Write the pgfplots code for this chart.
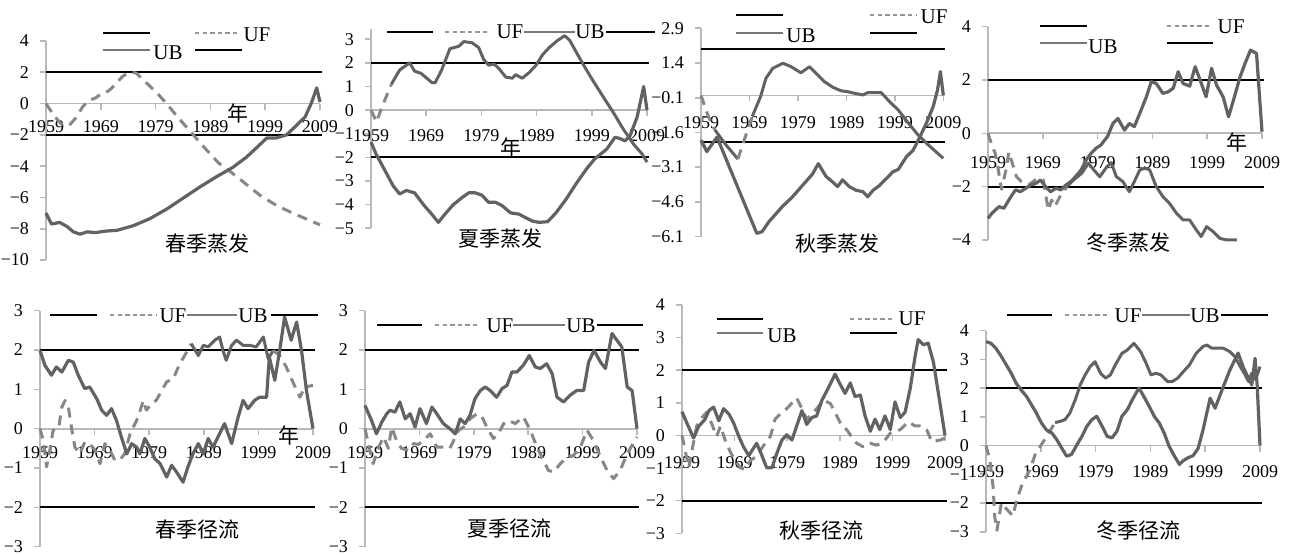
\documentclass[border=0pt]{standalone}
\usepackage{pgfplots}
\pgfplotsset{compat=1.18}
\usepackage{fontspec}
\setmainfont{Liberation Serif}
\newfontfamily\cjk{Noto Sans CJK SC}
\definecolor{axgray}{RGB}{185,185,185}
\definecolor{ubgray}{RGB}{98,98,98}
\definecolor{ufgray}{RGB}{135,135,135}
\definecolor{lggray}{RGB}{120,120,120}
\definecolor{lgdgray}{RGB}{150,150,150}
\pgfplotsset{
  panel/.style={scale only axis, clip=false, xmin=1959, xmax=2009,
    anchor=north west,
    axis x line=middle, axis y line=left,
    axis line style={draw=axgray, line width=0.9pt, -},
    xtick={1959,1969,1979,1989,1999,2009},
    xticklabels={1959,1969,1979,1989,1999,2009},
    major tick length=3pt, tick align=outside,
    every tick/.style={draw=axgray, line width=0.8pt},
    tick label style={font=\fontsize{9}{10}\selectfont, text=black},
    yticklabel style={anchor=east, xshift=-2pt},
    hide obscured x ticks=false, hide obscured y ticks=false,
    every axis plot/.append style={line join=round},
  },
  uf/.style={draw=ufgray, line width=1.5pt, dash pattern=on 5pt off 3.5pt},
  ufs/.style={draw=ubgray, line width=1.5pt},
  ub/.style={draw=ubgray, line width=1.6pt},
  crit/.style={black, line width=1.1pt},
}
\tikzset{
  lgk/.style={black, line width=1pt},
  lgd/.style={lgdgray, line width=1pt, dash pattern=on 2.2pt off 1.6pt},
  lgg/.style={lggray, line width=1pt},
  lgt/.style={font=\fontsize{10.5}{12}\selectfont, inner sep=0pt},
  ttl/.style={font=\cjk\fontsize{10.5}{12}\selectfont, inner sep=0pt},
}
\begin{document}
\begin{tikzpicture}
\useasboundingbox (0,0) rectangle (644.5pt,-277.5pt);

% ---------------- P1 春季蒸发
\begin{axis}[panel, at={(23pt,-20.5pt)}, width=137pt, height=109.5pt,
  ymin=-10, ymax=4, ytick={-10,-8,-6,-4,-2,0,2,4},
  yticklabels={−10,−8,−6,−4,−2,0,2,4},
  xticklabel style={anchor=center, yshift=-8.5pt}]
\addplot[crit] coordinates {(1959,2) (2009.3,2)};
\addplot[crit] coordinates {(1959,-2) (2009.3,-2)};
\addplot[uf] coordinates {(1959,0) (1960.5,-0.8) (1961.8,-1.3) (1963.2,-1.4) (1964.5,-0.9) (1965.7,-0.2) (1966.8,0.2) (1968,0.35) (1969.2,0.65) (1970.4,0.8) (1971.6,1.2) (1973,1.75) (1974.3,2.0) (1975.5,1.95) (1976.5,1.6) (1977.7,1.2) (1979.2,0.7) (1981,0) (1983,-0.85) (1985.5,-1.85) (1988,-2.85) (1990.5,-3.8) (1993,-4.45) (1995.5,-5.15) (1998,-5.85) (2001,-6.5) (2004,-7.0) (2007,-7.45) (2009,-7.75)};
\addplot[ub] coordinates {(1959,-7.0) (1960,-7.7) (1961.5,-7.6) (1962.8,-7.85) (1964,-8.2) (1965.2,-8.35) (1966.5,-8.2) (1968,-8.25) (1970,-8.15) (1972,-8.1) (1975,-7.8) (1978,-7.35) (1981,-6.75) (1984,-6.05) (1987,-5.35) (1990,-4.7) (1993,-4.1) (1995.5,-3.45) (1997.5,-2.8) (1999.3,-2.2) (2001,-2.2) (2002.9,-2.0) (2004.7,-1.4) (2006.3,-0.85) (2007.5,0.1) (2008.4,1.0) (2009,0.1)};
\end{axis}

% ---------------- P2 夏季蒸发
\begin{axis}[panel, at={(185.5pt,-14.3pt)}, width=138pt, height=99.85pt,
  ymin=-5, ymax=3.45, ytick={-5,-4,-3,-2,-1,0,1,2,3},
  yticklabels={−5,−4,−3,−2,−1,0,1,2,3},
  xticklabel style={anchor=center, yshift=-9.5pt}]
\addplot[crit] coordinates {(1959,2) (2009.3,2)};
\addplot[crit] coordinates {(1959,-2) (2009.3,-2)};
\addplot[uf] coordinates {(1959,0) (1960,-0.5) (1961.1,0.2) (1962.7,1.1)};
\addplot[ufs] coordinates {(1962.7,1.1) (1964.2,1.7) (1966,2.0) (1966.9,1.65) (1968.1,1.55) (1970,1.17) (1970.6,1.15) (1971.8,1.7) (1973.3,2.6) (1974.9,2.7) (1975.8,2.9) (1977.3,2.85) (1978.5,2.65) (1979.4,2.15) (1980.3,1.9) (1981.3,1.95) (1982.2,1.75) (1983.4,1.4) (1984.6,1.35) (1985.2,1.5) (1986.4,1.35) (1987.7,1.6) (1988.9,1.9) (1990.1,2.35) (1991.3,2.65) (1992.8,2.95) (1994.1,3.15) (1995,2.95) (1996.2,2.45) (1997.4,1.95) (1999.2,1.25) (2001.1,0.55) (2002.9,-0.1) (2004.7,-0.8) (2006.6,-1.45) (2008.1,-1.85) (2009,-2.2)};
\addplot[ub] coordinates {(1959,-1.35) (1959.9,-1.85) (1961.4,-2.5) (1963,-3.2) (1964.2,-3.55) (1965.4,-3.4) (1966.9,-3.5) (1968.5,-4.0) (1970,-4.4) (1971.2,-4.75) (1972.4,-4.4) (1973.9,-4.0) (1975.5,-3.7) (1976.7,-3.5) (1977.9,-3.5) (1979.1,-3.6) (1980.3,-3.9) (1981.6,-3.9) (1982.8,-4.05) (1984.3,-4.35) (1985.8,-4.4) (1987,-4.55) (1988.3,-4.7) (1989.5,-4.75) (1991,-4.72) (1992.5,-4.35) (1994.4,-3.75) (1996.2,-3.1) (1998,-2.5) (1999.5,-2.07) (2001.7,-1.65) (2003.2,-1.15) (2004.1,-1.2) (2005,-1.3) (2005.9,-1.1) (2007.2,-0.3) (2008.4,1.0) (2009,0)};
\end{axis}

% ---------------- P3 秋季蒸发
\begin{axis}[panel, at={(350.5pt,-14.15pt)}, width=121.15pt, height=104.15pt,
  ymin=-6.1, ymax=2.9, ytick={-6.1,-4.6,-3.1,-1.6,-0.1,1.4,2.9},
  yticklabels={−6.1,−4.6,−3.1,−1.6,−0.1,1.4,2.9},
  xticklabel style={anchor=center, yshift=-10.5pt}]
\addplot[crit] coordinates {(1959,2) (2009.3,2)};
\addplot[crit] coordinates {(1959,-2) (2009.3,-2)};
\addplot[uf] coordinates {(1959,0) (1960.5,-0.9) (1961.9,-1.5)};
\addplot[ufs] coordinates {(1961.9,-1.5) (1964,-2.1) (1966.6,-2.75)};
\addplot[uf] coordinates {(1966.6,-2.75) (1967.7,-2.06) (1969.6,-0.9)};
\addplot[ufs] coordinates {(1969.6,-0.9) (1971.3,-0.05) (1972.4,0.74) (1973.8,1.17) (1975.9,1.39) (1977.6,1.24) (1979.6,0.98) (1981.4,1.24) (1983.1,0.88) (1984.5,0.59) (1986.2,0.35) (1987.9,0.2) (1989.3,0.16) (1990.7,0.09) (1992.4,0.02) (1993.4,0.12) (1996.2,0.12) (1997.9,-0.27) (1999.7,-0.63) (2001.8,-1.2) (2003.8,-1.71) (2005.9,-2.14) (2009,-2.72)};
\addplot[ub] coordinates {(1959,-1.93) (1960.2,-2.43) (1962.3,-1.8) (1970.5,-5.96) (1971.6,-5.89) (1973,-5.46) (1975.8,-4.8) (1977.8,-4.4) (1979.9,-3.9) (1982,-3.4) (1983.2,-2.95) (1984.8,-3.5) (1986.1,-3.73) (1987.2,-3.94) (1988.2,-3.65) (1989.6,-3.94) (1991,-4.1) (1992.4,-4.16) (1993.4,-4.38) (1994.5,-4.1) (1995.8,-3.9) (1997.2,-3.6) (1998.6,-3.3) (1999.7,-3.2) (2001.4,-2.65) (2002.8,-2.36) (2004.2,-1.78) (2005.5,-1.2) (2006.9,-0.49) (2007.8,0.23) (2008.4,1.03) (2009,0)};
\end{axis}

% ---------------- P4 冬季蒸发
\begin{axis}[panel, at={(494pt,-13.35pt)}, width=137pt, height=106.65pt,
  ymin=-4, ymax=4, ytick={-4,-2,0,2,4},
  yticklabels={−4,−2,0,2,4},
  xticklabel style={anchor=center, yshift=-11.5pt}]
\addplot[crit] coordinates {(1959,2) (2009.3,2)};
\addplot[crit] coordinates {(1959,-2) (2009.3,-2)};
\addplot[uf] coordinates {(1959,0) (1959.7,-0.44) (1960.3,-0.75) (1960.8,-1.25) (1961.2,-1.8) (1961.5,-2.1) (1962.4,-1.25) (1962.8,-0.7) (1964.2,-1.63) (1965.1,-1.81) (1966.4,-1.94) (1967.6,-1.75) (1969.1,-1.75) (1970,-2.88) (1970.6,-2.5) (1971.2,-2.75) (1972.1,-2.38) (1973.4,-2.0)};
\addplot[ufs] coordinates {(1973.4,-2.0) (1974.6,-1.75) (1976.1,-1.5) (1977.3,-1.12) (1978.3,-1.37) (1979.4,-1.63) (1980.7,-1.25) (1981.5,-1.1) (1982.4,-1.62) (1983.6,-1.81) (1984.8,-2.19) (1985.7,-1.81) (1986.7,-1.37) (1987.6,-1.31) (1988.5,-1.37) (1989.7,-2.0) (1990.9,-2.37) (1992.1,-2.62) (1993.4,-3.0) (1994.6,-3.25) (1995.8,-3.25) (1997,-3.62) (1997.9,-3.87) (1998.9,-3.5) (2000.1,-3.69) (2001.3,-3.94) (2002.6,-4.0) (2004.4,-4.0)};
\addplot[ub] coordinates {(1959,-3.19) (1959.7,-3.0) (1961,-2.75) (1961.9,-2.81) (1962.8,-2.5) (1964,-2.12) (1964.9,-2.19) (1965.9,-2.06) (1966.8,-1.94) (1967.7,-1.88) (1968.6,-1.75) (1969.5,-2.0) (1970.4,-2.19) (1971.4,-2.06) (1972.3,-2.12) (1973.2,-1.94) (1974.1,-1.81) (1975,-1.62) (1976,-1.37) (1976.9,-1.0) (1977.8,-0.75) (1978.7,-0.56) (1979.6,-0.44) (1980.8,-0.12) (1981.8,0.37) (1982.7,0.56) (1983.9,0.12) (1984.8,0.37) (1985.7,0.25) (1986.7,0.75) (1987.9,1.37) (1988.8,1.94) (1989.7,1.87) (1990.9,1.5) (1991.9,1.56) (1992.8,1.69) (1993.7,2.31) (1994.6,1.87) (1995.8,1.77) (1996.8,2.5) (1997.7,2.0) (1998.8,1.37) (1999.8,2.44) (2000.7,1.81) (2001.9,1.37) (2002.9,0.62) (2003.8,1.25) (2005,2.12) (2005.9,2.62) (2006.9,3.12) (2008,3.0) (2009,0.06)};
\end{axis}

% ---------------- P5 春季径流
\begin{axis}[panel, at={(20pt,-155.35pt)}, width=136.5pt, height=118pt,
  ymin=-3, ymax=3, ytick={-3,-2,-1,0,1,2,3},
  yticklabels={−3,−2,−1,0,1,2,3},
  xticklabel style={anchor=center, yshift=-9pt}]
\addplot[crit] coordinates {(1959,2) (2009.3,2)};
\addplot[crit] coordinates {(1959,-2) (2009.3,-2)};
\addplot[uf] coordinates {(1959,0) (1959.6,-0.3) (1960.2,-0.97) (1960.8,-0.55) (1961.4,-0.04) (1962.4,0) (1963,0.55) (1963.6,0.72) (1964.2,0.55) (1964.8,0) (1965.4,-0.47) (1966.3,-0.64) (1967.2,-0.34) (1968.1,-0.38) (1969.1,-0.55) (1970,-0.89) (1970.9,-0.38) (1971.8,-0.55) (1972.7,-0.8) (1973.6,-0.8) (1974.5,-0.64) (1975.5,-0.13) (1976.1,0.04) (1977,0.3) (1977.9,0.72) (1978.5,0.47) (1979.4,0.64) (1980.3,0.72) (1981.3,0.97) (1982.2,1.19) (1983.4,1.27) (1984.6,1.65) (1985.5,1.86) (1986.7,2.16)};
\addplot[ufs] coordinates {(1986.7,2.16) (1988,1.86) (1988.9,2.12) (1989.8,2.08) (1991,2.25) (1991.9,2.33) (1992.5,1.99) (1993.1,1.74) (1994.1,2.12) (1995,2.25) (1996.2,2.12) (1997.4,2.12) (1998.6,2.08) (1999.9,2.33) (2000.8,1.78) (2001.7,1.99)};
\addplot[uf] coordinates {(2001.7,1.99) (2002.9,1.86) (2004.1,1.57) (2005.3,1.19) (2006.6,0.8) (2007.5,1.06) (2009,1.1)};
\addplot[ub] coordinates {(1959,1.99) (1959.9,1.61) (1961.1,1.36) (1962,1.57) (1963,1.44) (1964.2,1.74) (1965.1,1.69) (1966,1.36) (1967.2,1.02) (1968.1,1.06) (1969.4,0.76) (1970.3,0.47) (1971.2,0.34) (1972.1,0.51) (1973,0.21) (1973.9,-0.21) (1974.9,-0.64) (1975.8,-0.38) (1976.7,-0.47) (1977.3,-0.64) (1978.2,-0.25) (1979.1,-0.47) (1980,-0.76) (1981,-0.89) (1982.2,-1.23) (1983.1,-0.93) (1984,-1.1) (1985.2,-1.36) (1986.1,-0.97) (1987,-0.64) (1988,-0.38) (1988.9,-0.64) (1989.8,-0.25) (1990.7,-0.47) (1991.6,-0.21) (1992.8,0.13) (1994.1,-0.38) (1995.3,0.3) (1996.2,0.72) (1997.1,0.51) (1998.3,0.72) (1999.2,0.8) (2000.5,0.8) (2001,1.82) (2002,1.23) (2002.9,1.99) (2003.8,2.84) (2005,2.25) (2006,2.71) (2006.9,1.99) (2007.8,0.97) (2009,0)};
\end{axis}

% ---------------- P6 夏季径流
\begin{axis}[panel, at={(182.5pt,-155.35pt)}, width=136pt, height=118pt,
  ymin=-3, ymax=3, ytick={-3,-2,-1,0,1,2,3},
  yticklabels={−3,−2,−1,0,1,2,3},
  xticklabel style={anchor=center, yshift=-9pt}]
\addplot[crit] coordinates {(1959,2) (2009.3,2)};
\addplot[crit] coordinates {(1959,-2) (2009.3,-2)};
\addplot[uf] coordinates {(1959,0) (1959.9,-0.55) (1960.5,-0.89) (1961.5,-0.47) (1962.4,-0.21) (1963.3,-0.5) (1963.9,0.04) (1964.8,-0.3) (1965.7,-0.5) (1967,-0.55) (1967.9,-0.38) (1968.8,-0.4) (1969.7,-0.3) (1971,-0.13) (1972.2,-0.47) (1973.4,-0.47) (1974.6,-0.5) (1975.3,-0.3) (1976.2,-0.04) (1977.1,0.04) (1978.3,0.25) (1979.6,0.38) (1980.5,0.3) (1981.4,0.04) (1982.6,-0.25) (1983.5,-0.13) (1984.5,0.13) (1985.4,0.21) (1986.6,0.13) (1988.1,0.3) (1989.4,-0.04) (1990.6,-0.47) (1991.8,-0.8) (1992.7,-1.06) (1993.7,-1.1) (1994.9,-0.89) (1996.1,-0.72) (1997.3,-0.68) (1998.6,-0.47) (1999.8,-0.04) (2001,-0.3) (2002.3,-0.72) (2003.5,-1.06) (2004.7,-1.27) (2005.9,-1.06) (2007.2,-0.64) (2008.1,-0.42) (2009,-0.21)};
\addplot[ub] coordinates {(1959,0.59) (1960.2,0.21) (1961.1,-0.13) (1962.1,0.17) (1963,0.38) (1963.6,0.47) (1964.5,0.42) (1965.4,0.68) (1966.4,0.25) (1967.3,0.38) (1968.2,0.04) (1969.1,0.51) (1970.3,0.13) (1971.3,0.55) (1972.2,0.38) (1973.4,0.13) (1974.6,0) (1975.6,-0.13) (1976.5,0.25) (1977.4,0.13) (1978.3,0.34) (1979.2,0.76) (1980.2,0.97) (1981.1,1.06) (1982,0.97) (1983.2,0.8) (1984.2,1.02) (1985.1,1.1) (1986,1.44) (1986.9,1.44) (1988.1,1.61) (1989.2,1.86) (1990.3,1.57) (1991.2,1.53) (1992.4,1.65) (1993.4,1.4) (1994.3,0.8) (1995.5,0.68) (1996.7,0.85) (1997.9,0.97) (1999.2,0.97) (2000.1,1.69) (2001.1,1.99) (2002.3,1.69) (2003.2,1.53) (2004.4,2.42) (2005.3,2.25) (2006.2,2.08) (2007.2,1.06) (2008.1,0.97) (2009,0)};
\end{axis}

% ---------------- P7 秋季径流
\begin{axis}[panel, at={(341pt,-152.5pt)}, width=131.5pt, height=114.15pt,
  ymin=-3, ymax=4, ytick={-3,-2,-1,0,1,2,3,4},
  yticklabels={−3,−2,−1,0,1,2,3,4},
  xticklabel style={anchor=center, yshift=-10.5pt}]
\addplot[crit] coordinates {(1959,2) (2009.3,2)};
\addplot[crit] coordinates {(1959,-2) (2009.3,-2)};
\addplot[uf] coordinates {(1959,0) (1959.6,-0.46) (1960.3,-0.99) (1960.9,-0.46) (1961.8,0.29) (1962.8,0.55) (1963.7,0.71) (1964.7,0.34) (1965.6,-0.03) (1966.3,0.29) (1967.2,-0.14) (1968.2,-0.51) (1969.1,-0.77) (1970.1,-0.99) (1971,-1.04) (1972,-0.77) (1972.9,-0.67) (1973.9,-0.46) (1974.8,-0.24) (1975.8,-0.03) (1976.7,0.5) (1977.7,0.66) (1978.9,0.82) (1980.8,1.15) (1981.8,0.82) (1982.7,0.5) (1983.7,0.66) (1984.6,0.82) (1985.9,1.08) (1987.2,0.98) (1988.1,0.71) (1989.4,0.29) (1990.3,0.18) (1991.3,-0.05) (1992.2,-0.24) (1993.5,-0.35) (1994.8,-0.24) (1996,-0.3) (1997.3,-0.2) (1998.6,0.07) (2000.5,0.18) (2002,0.42) (2003.3,0.29) (2004.3,0.29) (2005.5,0.18) (2006.5,-0.19) (2008.1,-0.14) (2009,-0.08)};
\addplot[ub] coordinates {(1959,0.73) (1959.9,0.39) (1961.2,-0.08) (1962.2,0.29) (1962.8,0.39) (1963.4,0.5) (1964.1,0.76) (1965,0.87) (1966,0.45) (1966.9,0.82) (1967.9,0.66) (1968.8,0.39) (1969.8,-0.03) (1970.7,-0.35) (1971.7,-0.62) (1972.3,-0.46) (1973.2,-0.24) (1974.2,-0.62) (1975.1,-0.99) (1976.1,-0.99) (1977,-0.56) (1978,-0.14) (1978.9,0.02) (1979.9,-0.14) (1980.8,0.29) (1981.8,0.76) (1982.7,0.34) (1983.7,0.55) (1984.6,0.6) (1985.6,1.08) (1986.8,1.45) (1988.1,1.88) (1989.1,1.56) (1990,1.29) (1991,1.61) (1991.9,1.19) (1992.9,1.24) (1993.8,0.6) (1994.8,0.13) (1995.7,0.5) (1996.6,0.18) (1997.6,0.6) (1998.6,0.18) (1999.5,1.03) (2000.5,0.55) (2001.4,0.71) (2002.4,1.45) (2003.3,2.41) (2003.9,2.94) (2004.9,2.78) (2005.8,2.83) (2006.8,2.25) (2008,1.03) (2009,0)};
\end{axis}

% ---------------- P8 冬季径流
\begin{axis}[panel, at={(493pt,-165.35pt)}, width=137pt, height=100.5pt,
  ymin=-3, ymax=4, ytick={-3,-2,-1,0,1,2,3,4},
  yticklabels={−3,−2,−1,0,1,2,3,4},
  xticklabel style={anchor=center, yshift=-10pt}]
\addplot[crit] coordinates {(1959,2) (2009.3,2)};
\addplot[crit] coordinates {(1959,-2) (2009.3,-2)};
\addplot[uf] coordinates {(1959,0) (1959.7,-0.5) (1960.3,-1.45) (1960.6,-2.5) (1961,-2.95) (1961.8,-2.0) (1962.7,-2.2) (1963.9,-2.45) (1964.6,-1.9) (1965.5,-1.4) (1967,-0.85) (1968,-0.3) (1969,0.0) (1970,0.3) (1970.8,0.55) (1971.6,0.8)};
\addplot[ufs] coordinates {(1971.6,0.8) (1972.5,0.84) (1973.4,0.9) (1974.3,1.13) (1975.3,1.6) (1976.2,2.12) (1977.1,2.46) (1978,2.75) (1978.9,2.92) (1979.9,2.52) (1980.8,2.35) (1981.7,2.46) (1982.6,2.81) (1983.8,3.21) (1984.8,3.33) (1986,3.56) (1987.2,3.27) (1988.1,2.92) (1989.1,2.46) (1990,2.52) (1990.9,2.46) (1992.1,2.23) (1993,2.23) (1994,2.35) (1994.9,2.55) (1996.1,2.8) (1997.3,3.2) (1998.6,3.45) (1999.3,3.5) (2000.2,3.39) (2002.3,3.39) (2003.5,3.27) (2004.4,3.1) (2005.4,2.75) (2006.3,2.46) (2006.9,2.23) (2007.5,2.52) (2008.2,2.3) (2009,2.75)};
\addplot[ub] coordinates {(1959,3.62) (1959.9,3.56) (1960.8,3.39) (1961.8,3.1) (1962.7,2.81) (1963.6,2.52) (1964.5,2.17) (1965.4,1.94) (1966.4,1.71) (1967.3,1.42) (1968.2,1.13) (1969.1,0.79) (1970,0.55) (1971,0.44) (1971.9,0.21) (1972.8,-0.08) (1973.7,-0.37) (1974.6,-0.31) (1975.6,0.03) (1976.5,0.32) (1977.4,0.67) (1978.3,0.9) (1979.2,1.02) (1980.2,0.67) (1981.1,0.32) (1982,0.27) (1982.9,0.5) (1983.8,1.02) (1984.8,1.25) (1985.7,1.6) (1986.9,2.0) (1987.8,1.71) (1988.8,1.36) (1989.7,1.02) (1990.6,0.79) (1991.5,0.44) (1992.4,-0.02) (1993.4,-0.37) (1994.3,-0.66) (1994.9,-0.54) (1995.8,-0.43) (1996.8,-0.35) (1997.7,-0.1) (1998.6,0.54) (1999.9,1.65) (2000.8,1.3) (2002.3,2.05) (2003.5,2.63) (2005,3.22) (2005.9,2.75) (2006.9,2.34) (2007.5,2.11) (2008.1,3.04) (2008.5,2.05) (2009,0)};
\end{axis}

% ---------------- legends, titles (pixel coordinates)
\begin{scope}[x=0.5pt, y=-0.5pt]
% P1
\draw[lgk] (103,33)--(150,33); \draw[lgd] (195,33)--(238,33); \node[lgt] at (257,35) {UF};
\draw[lgg] (103,50)--(150,50); \node[lgt] at (168,53) {UB}; \draw[lgk] (195,50)--(242,50);
\node[ttl] at (207,244) {春季蒸发};
\node[ttl] at (238,113) {年};
% P2
\draw[lgk] (387,32)--(433,32); \draw[lgd] (445,32)--(490,32); \node[lgt] at (510,32) {UF};
\draw[lgg] (524,32)--(575,32); \node[lgt] at (590,32) {UB}; \draw[lgk] (606,32)--(655,32);
\node[ttl] at (500,239) {夏季蒸发};
\node[ttl] at (511,147) {年};
% P3
\draw[lgk] (736,15)--(783,15); \draw[lgd] (870,15)--(917,15); \node[lgt] at (934,17) {UF};
\draw[lgg] (736,33)--(783,33); \node[lgt] at (801,36) {UB}; \draw[lgk] (870,33)--(917,33);
\node[ttl] at (837,244) {秋季蒸发};
% P4
\draw[lgk] (1040,26)--(1087,26); \draw[lgd] (1167,26)--(1212,26); \node[lgt] at (1231,27) {UF};
\draw[lgg] (1040,43)--(1087,43); \node[lgt] at (1103,47) {UB}; \draw[lgk] (1167,43)--(1213,43);
\node[ttl] at (1128,243) {冬季蒸发};
\node[ttl] at (1237,142) {年};
% P5
\draw[lgk] (50,315)--(97,315); \draw[lgd] (110,315)--(157,315); \node[lgt] at (173,316) {UF};
\draw[lgg] (187,315)--(237,315); \node[lgt] at (253,316) {UB}; \draw[lgk] (271,315)--(318,315);
\node[ttl] at (197,530) {春季径流};
\node[ttl] at (289,435) {年};
% P6
\draw[lgk] (377,325)--(422,325); \draw[lgd] (435,325)--(478,325); \node[lgt] at (500,326) {UF};
\draw[lgg] (513,325)--(565,325); \node[lgt] at (581,326) {UB}; \draw[lgk] (597,325)--(643,325);
\node[ttl] at (509,529) {夏季径流};
% P7
\draw[lgk] (717,319)--(763,319); \draw[lgd] (850,319)--(895,319); \node[lgt] at (912,319) {UF};
\draw[lgg] (717,333)--(763,333); \node[lgt] at (782,336) {UB}; \draw[lgk] (850,333)--(897,333);
\node[ttl] at (821,531) {秋季径流};
% P8
\draw[lgk] (1007,315)--(1052,315); \draw[lgd] (1065,315)--(1108,315); \node[lgt] at (1128,316) {UF};
\draw[lgg] (1142,315)--(1190,315); \node[lgt] at (1205,316) {UB}; \draw[lgk] (1221,315)--(1268,315);
\node[ttl] at (1138,531) {冬季径流};
\end{scope}
\end{tikzpicture}
\end{document}
